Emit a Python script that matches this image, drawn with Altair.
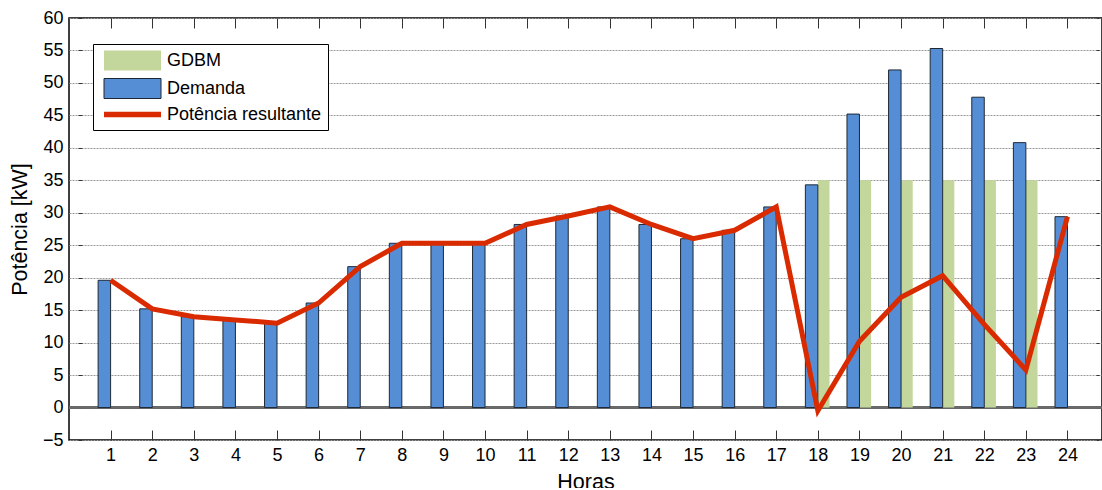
import altair as alt
import pandas as pd

# Hourly values (kW)
horas = list(range(1, 25))
demanda = [19.6, 15.2, 14.0, 13.5, 13.0, 16.1, 21.7, 25.3, 25.3, 25.3, 28.2, 29.5,
           30.9, 28.2, 26.0, 27.3, 30.9, 34.3, 45.2, 52.0, 55.3, 47.8, 40.8, 29.4]
gdbm = [0, 0, 0, 0, 0, 0, 0, 0, 0, 0, 0, 0,
        0, 0, 0, 0, 0, 35, 35, 35, 35, 35, 35, 0]
resultante = [19.6, 15.2, 14.0, 13.5, 13.0, 16.1, 21.7, 25.3, 25.3, 25.3, 28.2, 29.5,
              30.9, 28.2, 26.0, 27.3, 30.9, -0.5, 10.2, 17.0, 20.3, 12.8, 5.8, 29.4]

series = ["GDBM", "Demanda", "Potência resultante"]
y_ticks = list(range(-5, 61, 5))

GREEN = "#C3D69B"
BLUE = "#558ED5"
RED = "#DA2A00"
EDGE = "#1E2835"
FONT = "Liberation Sans"

rows = []
for h, g, d, r in zip(horas, gdbm, demanda, resultante):
    rows.append({"hora": h, "serie": "GDBM", "valor": g})
    rows.append({"hora": h, "serie": "Demanda", "valor": d})
    rows.append({"hora": h, "serie": "Potência resultante", "valor": r})
df = pd.DataFrame(rows)

x_scale = alt.Scale(domain=[0, 24.83], nice=False, zero=False)
y_scale = alt.Scale(domain=[-5, 60], nice=False, zero=False)

# legend swatches: wide rectangles for the bars, a thin strip for the line
RECT = "M-2.85,-1H2.85V1H-2.85Z"
STRIP = "M-2.85,-0.27H2.85V0.27H-2.85Z"

legend = alt.Legend(
    title=None, orient="none", legendX=24, legendY=26,
    direction="vertical",
    fillColor="white", strokeColor="black",
    padding=6, rowPadding=3, symbolSize=400, symbolOffset=23,
    labelOffset=24, symbolStrokeWidth=1, symbolOpacity=1,
    labelFont=FONT, labelFontSize=18, labelColor="black",
    labelLimit=400,
)

zero_line = alt.Chart(df).mark_rule(color="#6a6a6a", strokeWidth=1.5).encode(
    y=alt.Y(datum=0, scale=y_scale, axis=None)
)

bars = alt.Chart(df).transform_filter(
    "datum.serie != 'Potência resultante'"
).transform_calculate(
    x0="datum.hora + (datum.serie == 'Demanda' ? -0.3 : 0)",
    x1="datum.hora + (datum.serie == 'Demanda' ? 0 : 0.28)",
).mark_bar(strokeWidth=1).encode(
    x=alt.X("x0:Q", scale=x_scale, axis=alt.Axis(
        orient="bottom", values=horas, title="Horas", ticks=False, domain=False,
        grid=False, labelFont=FONT, labelFontSize=18, labelColor="black",
        labelPadding=6, labelFlush=False, labelOverlap=False,
        titleFont=FONT, titleFontSize=21.5, titleFontWeight="normal",
        titleColor="black", titlePadding=7)),
    x2="x1:Q",
    y=alt.Y("valor:Q", scale=y_scale, axis=alt.Axis(
        orient="left", values=y_ticks, title="Potência [kW]", ticks=False,
        domain=False, grid=True, gridColor="#9a9a9a", gridDash=[2, 1],
        gridWidth=1, labelFont=FONT, labelFontSize=18, labelColor="black",
        labelPadding=6, labelFlush=False, labelOverlap=False,
        titleFont=FONT, titleFontSize=21.5, titleFontWeight="normal",
        titleColor="black", titlePadding=11)),
    y2=alt.Y2(datum=0),
    color=alt.Color("serie:N", scale=alt.Scale(domain=["GDBM", "Demanda"],
                                                range=[GREEN, BLUE]), legend=None),
    stroke=alt.condition("datum.serie == 'Demanda'", alt.value(EDGE),
                         alt.value("transparent")),
)

line = alt.Chart(df).transform_filter(
    "datum.serie == 'Potência resultante'"
).mark_line(color=RED, strokeWidth=5, strokeJoin="miter").encode(
    x=alt.X("hora:Q", scale=x_scale, axis=alt.Axis(
        orient="bottom", offset=-10, tickSize=10, tickColor="#333", values=horas,
        labels=False, domain=False, grid=False, title=None)),
    y=alt.Y("valor:Q", scale=y_scale, axis=alt.Axis(
        orient="left", offset=-13, tickSize=4, tickColor="#333", values=y_ticks,
        labels=False, domain=False, grid=False, title=None)),
)

keys = alt.Chart(df).mark_point(filled=True, opacity=0).encode(
    x=alt.X("hora:Q", scale=x_scale, axis=alt.Axis(
        orient="top", offset=-10, tickSize=10, tickColor="#333", values=horas,
        labels=False, domain=False, grid=False, title=None)),
    y=alt.Y("valor:Q", scale=y_scale, axis=alt.Axis(
        orient="right", offset=-6, tickSize=3, tickColor="#333", values=y_ticks,
        labels=False, domain=False, grid=False, title=None)),
    fill=alt.Fill("serie:N", scale=alt.Scale(domain=series, range=[GREEN, BLUE, RED]),
                  legend=legend),
    stroke=alt.Stroke("serie:N", scale=alt.Scale(domain=series,
                      range=["transparent", EDGE, "transparent"]), legend=legend),
    shape=alt.Shape("serie:N", scale=alt.Scale(domain=series, range=[RECT, RECT, STRIP]),
                    legend=legend),
)

chart = alt.layer(zero_line, bars, line, keys).resolve_axis(
    x="independent", y="independent"
).properties(
    width=1033, height=422,
    autosize=alt.AutoSizeParams(type="none"),
    padding={"left": 69, "top": 18, "right": 0, "bottom": 48},
    background="white",
).configure_view(stroke="black", strokeWidth=1.5)

chart.save("out.html", embed_options={"renderer": "svg", "actions": False})
